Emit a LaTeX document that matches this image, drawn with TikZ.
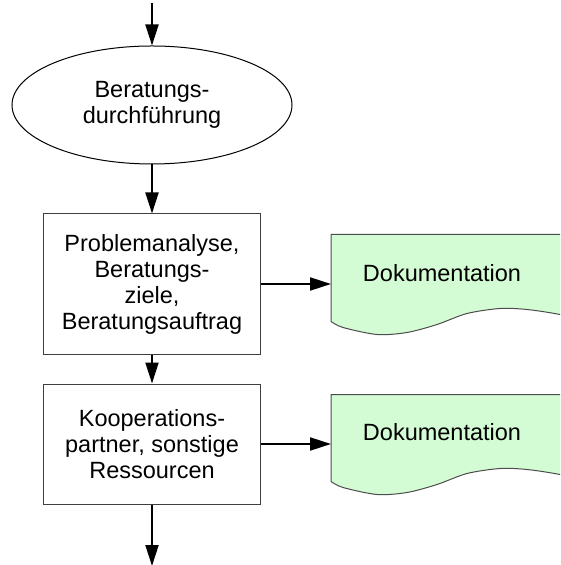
\documentclass[tikz,border=0pt]{standalone}
\usepackage{fontspec}
\setmainfont{Liberation Sans}
\usepackage{xcolor}
\usetikzlibrary{arrows.meta,shapes.geometric}

\definecolor{dokgreen}{RGB}{212,252,212}

\tikzset{
    flow/.style={line width=1pt,-{Triangle[length=10.5pt,width=6.5pt]}},
    process/.style={draw=black!75,line width=0.5pt,align=center,
        minimum width=108.5pt,inner sep=0pt},
    pics/dokument/.style={code={
        \filldraw[draw=black!70,fill=dokgreen,line width=0.5pt]
            (260,0) -- (0,0) -- plot[smooth,tension=0.5] coordinates
            {(0,87) (12,93) (46,100) (76,98) (106,90) (136,79) (169,74) (196,75) (229,80) (262,88)}
            -- cycle;
        \coordinate (-west) at (0,49.5);
    }}
}

\begin{document}
\begin{tikzpicture}[x=0.5pt,y=-0.5pt,font=\fontsize{11.75}{13}\selectfont]
    \useasboundingbox (0,0) rectangle (560,565);
    \clip (0,0) rectangle (560,565);

    \node[ellipse,draw,line width=0.5pt,minimum width=140pt,minimum height=59pt,
        inner sep=0pt,align=center] (beratung) at (152,105) {Beratungs-\\durchführung};
    \node[process,minimum height=70pt] (analyse) at (152,284)
        {Problemanalyse,\\Beratungs-\\ziele,\\Beratungsauftrag};
    \node[process,minimum height=60pt] (partner) at (152,444)
        {Kooperations-\\partner, sonstige\\Ressourcen};

    % Dokumente, rechts abgeschnitten
    \pic (d1) at (331,234.5) {dokument};
    \pic (d2) at (331,394.5) {dokument};
    \node (dok1) at (442,273) {Dokumentation};
    \node (dok2) at (442,432) {Dokumentation};

    \coordinate (start) at (152,3);
    \coordinate (ende) at (152,566);

    \draw[flow] (start) -- (beratung);
    \draw[flow] (beratung) -- (analyse);
    \draw[flow] (analyse) -- (partner);
    \draw[flow] (partner) -- (ende);
    \draw[flow] (analyse) -- (d1-west);
    \draw[flow] (partner) -- (d2-west);
\end{tikzpicture}
\end{document}
